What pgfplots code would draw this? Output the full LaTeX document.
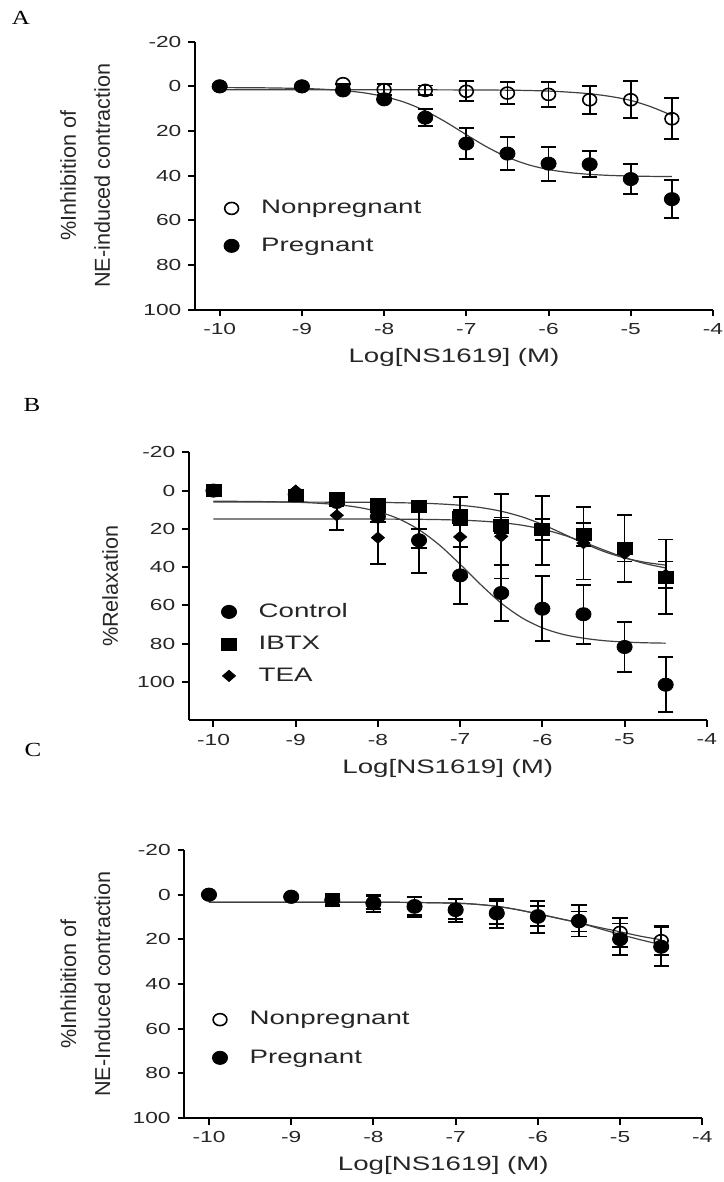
\documentclass[border=0pt]{standalone}
\usepackage{pgfplots}
\pgfplotsset{compat=1.18}
\usepackage{fontspec}
\setmainfont{Liberation Sans}
\newfontfamily\wide{Liberation Sans}[FakeStretch=1.42]
\newfontfamily\serifwide{Liberation Serif}[FakeStretch=1.25]
\newcommand\tickfont{\wide\fontsize{8}{9.6}\selectfont}
\newcommand\labfont{\wide\fontsize{9.75}{11.7}\selectfont}
\newcommand\yfont{\fontsize{10.8}{17}\selectfont}

\pgfplotsset{
  leg/.style={legend image code/.code={\draw[##1] plot coordinates {(0pt,0pt)};}},
  panel/.style={
    scale only axis, width=259pt, height=134pt,
    axis x line*=bottom, axis y line*=left,
    axis line style={line width=1pt, black},
    y dir=reverse,
    xmin=-10.3, xmax=-4, xtick={-10,-9,...,-4},
    ymin=-20, ytick={-20,0,...,100},
    tick align=outside, major tick length=3.3pt,
    tick style={line width=1pt, black},
    tick label style={font=\tickfont, text=black!85},
    /pgf/number format/assume math mode=true,
    xlabel={Log[NS1619] (M)},
    xlabel style={font=\labfont, text=black!85},
    ylabel style={font=\yfont, text=black!85, align=center, anchor=center},
    legend cell align=left,
    legend style={draw=none, fill=none, font=\labfont, text=black!85,
      inner sep=0pt, column sep=9pt, anchor=north west},
    clip=false,
  },
  fit/.style={black!75, line width=0.6pt, smooth, forget plot},
  dots/.style={only marks, black,
    error bars/y dir=both, error bars/y explicit,
    error bars/error bar style={line width=0.9pt, black},
    error bars/error mark options={rotate=90, mark size=3.8pt, line width=0.9pt, black}},
}

\begin{document}
\begin{tikzpicture}
\useasboundingbox (0,0) rectangle (361.5pt,-591pt);
\node[font=\serifwide\fontsize{10}{12}\selectfont] at (10.5pt,-9.2pt) {A};
\node[font=\serifwide\fontsize{10}{12}\selectfont] at (16pt,-202.5pt) {B};
\node[font=\serifwide\fontsize{10}{12}\selectfont] at (16.5pt,-375pt) {C};

% ---------------- A ----------------
\begin{axis}[panel, at={(227pt,-87.85pt)}, anchor=center, ymax=100,
  ylabel={\%Inhibition of\\NE-induced contraction},
  ylabel style={at={(axis description cs:-0.212,0.5)}},
  legend style={at={(axis cs:-9.952,49)}, row sep=6.5pt}]
\addplot[fit] coordinates {
  (-10,1.5) (-9,1.5) (-8,1.5) (-7,1.6) (-6.5,1.7) (-6.25,1.85) (-6,2.1)
  (-5.75,2.6) (-5.5,3.3) (-5.25,4.5) (-5,6.3) (-4.75,9.2) (-4.5,13)};
\addplot[fit] coordinates {
  (-10,0.55) (-9.5,0.64) (-9,0.94) (-8.75,1.28) (-8.5,1.87) (-8.25,2.87)
  (-8,4.54) (-7.75,7.15) (-7.5,10.97) (-7.25,15.97) (-7,21.65) (-6.75,27.14)
  (-6.5,31.7) (-6.25,35.04) (-6,37.23) (-5.75,38.59) (-5.5,39.4)
  (-5.25,39.88) (-5,40.15) (-4.75,40.3) (-4.5,40.39)};
\addplot[dots, mark=o, mark size=3pt, mark options={line width=0.8pt, xscale=1.15}, leg]
  table[x=x, y=y, y error=e] {
x y e
-10 0 0
-9 0 0
-8.5 -1.2 0
-8 1.5 2.5
-7.5 1.8 2.2
-7 2.2 4.5
-6.5 3.0 5.0
-6 3.6 5.7
-5.5 6.0 6.3
-5 6.0 8.3
-4.5 14.5 9.2
};
\addlegendentry{Nonpregnant}
\addplot[dots, mark=*, mark size=3.3pt, mark options={xscale=1.15}, leg]
  table[x=x, y=y, y error=e] {
x y e
-10 0 0
-9 0 0
-8.5 1.8 0
-8 5.8 0
-7.5 14.0 3.7
-7 25.6 7.0
-6.5 30.1 7.5
-6 34.6 7.6
-5.5 34.9 5.8
-5 41.5 6.8
-4.5 50.5 8.5
};
\addlegendentry{Pregnant}
\end{axis}

% ---------------- B ----------------
\begin{axis}[panel, at={(223.9pt,-293.15pt)}, anchor=center, ymax=120,
  ylabel={\%Relaxation},
  ylabel style={at={(axis description cs:-0.152,0.5)}},
  legend style={at={(axis cs:-9.908,56.6)}, row sep=3.7pt}]
\addplot[fit] coordinates {
  (-10,5.56) (-9.5,5.69) (-9,6.09) (-8.75,6.54) (-8.5,7.33) (-8.25,8.68)
  (-8,10.97) (-7.75,14.72) (-7.5,20.46) (-7.25,28.5) (-7,38.5) (-6.75,49.1)
  (-6.5,58.8) (-6.25,66.4) (-6,71.7) (-5.75,75.1) (-5.5,77.1) (-5.25,78.4)
  (-5,79.1) (-4.75,79.5) (-4.5,79.7)};
\addplot[fit] coordinates {
  (-10,6.0) (-9,6.0) (-8.5,6.06) (-8,6.17) (-7.5,6.55) (-7.25,6.96)
  (-7,7.67) (-6.75,8.87) (-6.5,10.79) (-6.25,13.69) (-6,17.67) (-5.75,22.5)
  (-5.5,27.46) (-5.25,31.83) (-5,35.17) (-4.75,37.47) (-4.5,38.93)};
\addplot[fit] coordinates {
  (-10,14.8) (-9,14.81) (-8.5,14.82) (-8,14.87) (-7.5,15.0) (-7.25,15.16)
  (-7,15.44) (-6.75,15.92) (-6.5,16.73) (-6.25,18.07) (-6,20.14)
  (-5.75,23.12) (-5.5,26.9) (-5.25,31.07) (-5,35.0) (-4.75,38.14) (-4.5,40.4)};
\addplot[dots, mark=*, mark size=3.3pt, mark options={xscale=1.15}, leg]
  table[x=x, y=y, y error=e] {
x y e
-10 0 0
-9 2 0
-8.5 5.9 2
-8 13.5 3
-7.5 26 17
-7 44.3 15
-6.5 53.5 14.5
-6 61.7 17
-5.5 64.6 15.4
-5 81.7 13
-4.5 101.4 14.3
};
\addlegendentry{Control}
\addplot[dots, mark=square*, mark size=3pt, mark options={xscale=1.25}, leg]
  table[x=x, y=y, y error=e] {
x y e
-10 0 0
-9 2.5 0
-8.5 4.2 2
-8 7.2 3
-7.5 8.4 3
-7 14 4
-6.5 18.1 4
-6 20.5 5.5
-5.5 22.8 6
-5 30.3 17.5
-4.5 45.1 19.5
};
\addlegendentry{IBTX}
\addplot[dots, mark=diamond*, mark size=2.8pt, mark options={xscale=1.55}, leg]
  table[x=x, y=y, y error=e] {
x y e
-10 0 0
-9 0 0
-8.5 12.9 7.5
-8 24.6 13.6
-7.5 25 5
-7 24.2 21
-6.5 23.9 22
-6 21 18
-5.5 27.4 19
-5 33 4
-4.5 44 7
};
\addlegendentry{TEA}
\end{axis}

% ---------------- C ----------------
\begin{axis}[panel, at={(221.65pt,-492pt)}, anchor=center, ymax=100,
  ylabel={\%Inhibition of\\NE-Induced contraction},
  ylabel style={at={(axis description cs:-0.191,0.5)}},
  legend style={at={(axis cs:-9.963,50.3)}, row sep=6.9pt}]
\addplot[fit] coordinates {
  (-10,3.4) (-8,3.4) (-7.5,3.5) (-7,3.8) (-6.75,4.3) (-6.5,5.2) (-6.25,6.7)
  (-6,8.6) (-5.75,10.6) (-5.5,12.6) (-5.25,14.7) (-5,16.6) (-4.75,18.6) (-4.5,20.2)};
\addplot[fit] coordinates {
  (-10,3.4) (-8,3.4) (-7.5,3.5) (-7,3.8) (-6.75,4.3) (-6.5,5.2) (-6.25,6.7)
  (-6,8.6) (-5.75,10.6) (-5.5,12.6) (-5.25,15.2) (-5,17.8) (-4.75,20.2) (-4.5,22.4)};
\addplot[dots, mark=o, mark size=3pt, mark options={line width=0.8pt, xscale=1.15}, leg]
  table[x=x, y=y, y error=e] {
x y e
-10 0 0
-9 1 0.5
-8.5 2.5 2
-8 3.5 3
-7.5 5 4
-7 6.5 4.5
-6.5 8 5
-6 9.5 4.5
-5.5 12 4.5
-5 16.9 6.4
-4.5 20.6 6.4
};
\addlegendentry{Nonpregnant}
\addplot[dots, mark=*, mark size=3.3pt, mark options={xscale=1.15}, leg]
  table[x=x, y=y, y error=e] {
x y e
-10 0 0
-9 0.9 0.5
-8.5 2.4 2.6
-8 3.9 3.9
-7.5 5.4 4.6
-7 6.9 5.2
-6.5 8.4 6.5
-6 9.9 7.1
-5.5 11.7 7
-5 19.9 7
-4.5 23.3 8.8
};
\addlegendentry{Pregnant}
\end{axis}
\end{tikzpicture}
\end{document}
